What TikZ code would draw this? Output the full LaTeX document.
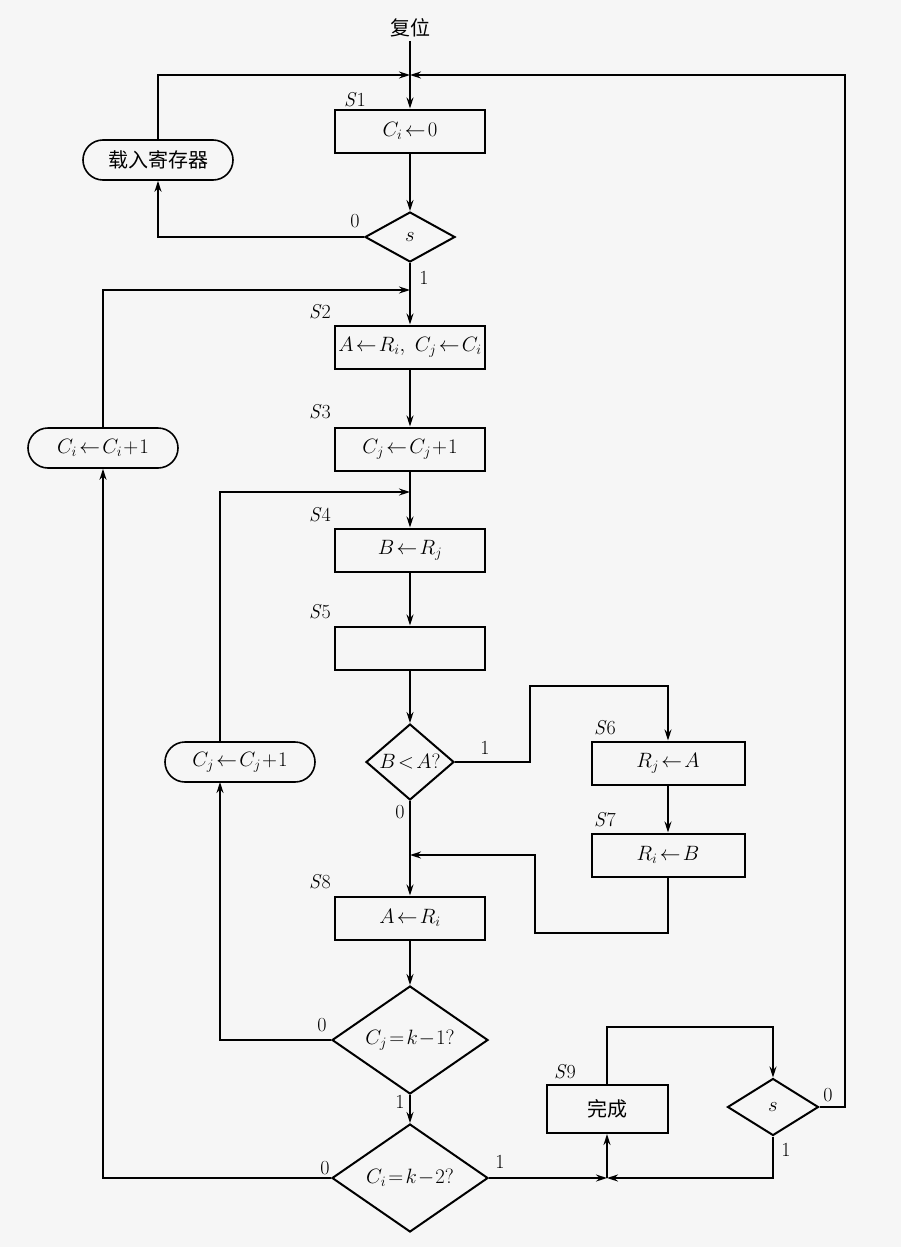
\documentclass[tikz,border=0pt]{standalone}
\usepackage{fontspec}
\newfontfamily\cjk{Noto Sans CJK SC}
\usetikzlibrary{shapes.geometric,arrows.meta}
\begin{document}
\begin{tikzpicture}[x=1pt,y=-1pt,font=\fontsize{20}{24}\selectfont,
  box/.style={draw,line width=2pt,minimum width=150pt,minimum height=43pt,inner sep=0},
  rbox/.style={draw,line width=1.6pt,rounded corners=20pt,minimum width=150pt,minimum height=40pt,inner sep=0},
  dia/.style={draw,diamond,line width=2pt,aspect=#1,inner sep=0},
  lab/.style={font=\fontsize{20}{24}\selectfont},
  ln/.style={line width=1.4pt},
  ar/.style={ln,-{Stealth[length=11pt,width=7pt]}}]
\useasboundingbox (0,0) rectangle (901,1247);
\fill[white!93!gray] (0,0) rectangle (901,1247);
\node (reset) at (410,28) {\cjk 复位};
\coordinate (j1) at (410,75);
\node[box] (s1) at (410,131) {$C_i\!\leftarrow\!0$};
\node[lab] at (355,100) {\textit{S}1};
\node[rbox] (load) at (158,160) {\cjk 载入寄存器};
\node[dia=1.8,minimum width=90pt,minimum height=50pt] (d1) at (410,237) {$s$};
\node at (355,221) {0};
\node at (424,278) {1};
\coordinate (j2) at (410,290);
\node[box] (s2) at (410,347) {$A\!\leftarrow\! R_i,\ C_j\!\leftarrow\! C_i$};
\node[lab] at (320,312) {\textit{S}2};
\node[rbox] (ci1) at (103,448) {$C_i\!\leftarrow\! C_i\!+\!1$};
\node[box] (s3) at (410,449) {$C_j\!\leftarrow\! C_j\!+\!1$};
\node[lab] at (320,412) {\textit{S}3};
\coordinate (j3) at (410,492);
\node[box] (s4) at (410,550) {$B\!\leftarrow\! R_j$};
\node[lab] at (320,515) {\textit{S}4};
\node[box] (s5) at (410,648) {};
\node[lab] at (320,612) {\textit{S}5};
\node[dia=1.15,minimum width=88pt,minimum height=76pt] (d2) at (410,762) {$B\!<\!A?$};
\node at (485,748) {1};
\node at (400,812) {0};
\node[rbox] (cj1) at (240,762) {$C_j\!\leftarrow\! C_j\!+\!1$};
\coordinate (cjx) at (220,782);
\node[box,minimum width=153pt] (s6) at (668,763) {$R_j\!\leftarrow\! A$};
\node[lab] at (605,728) {\textit{S}6};
\node[box,minimum width=153pt] (s7) at (668,855) {$R_i\!\leftarrow\! B$};
\node[lab] at (605,820) {\textit{S}7};
\coordinate (j4) at (410,855);
\node[box] (s8) at (410,918) {$A\!\leftarrow\! R_i$};
\node[lab] at (320,882) {\textit{S}8};
\node[dia=1.45,minimum width=156pt,minimum height=108pt] (d3) at (410,1040) {$C_j\!=\!k\!-\!1?$};
\node at (322,1025) {0};
\node at (400,1102) {1};
\node[dia=1.45,minimum width=156pt,minimum height=108pt] (d4) at (410,1178) {$C_i\!=\!k\!-\!2?$};
\node at (325,1168) {0};
\node at (500,1162) {1};
\node[box,minimum width=121pt,minimum height=48pt] (s9) at (607,1109) {\cjk 完成};
\node[lab] at (565,1072) {\textit{S}9};
\node[dia=1.6,minimum width=91pt,minimum height=57pt] (d5) at (773,1107) {$s$};
\node at (828,1095) {0};
\node at (786,1150) {1};
\coordinate (j5) at (607,1178);
% connectors
\draw[ar] (reset) -- (s1);
\draw[ar] (d5.east) -| (845,75) -- (j1);
\draw[ar] (load.north) |- (j1);
\draw[ar] (s1) -- (d1);
\draw[ar] (d1.west) -| (load.south);
\draw[ar] (d1) -- (s2);
\draw[ar] (ci1.north) |- (j2);
\draw[ar] (s2) -- (s3);
\draw[ar] (s3) -- (s4);
\draw[ar] (cjx |- cj1.north) |- (j3);
\draw[ar] (s4) -- (s5);
\draw[ar] (s5) -- (d2);
\draw[ar] (d2.east) -- (530,762) |- (668,686) -- (s6.north);
\draw[ar] (s6) -- (s7);
\draw[ar] (s7.south) |- (535,933) |- (j4);
\draw[ar] (d2) -- (s8);
\draw[ar] (s8) -- (d3);
\draw[ar] (d3.west) -| (cjx);
\draw[ar] (d3) -- (d4);
\draw[ar] (d4.west) -| (ci1.south);
\draw[ar] (d4.east) -- (j5);
\draw[ar] (d5.south) |- (j5);
\draw[ar] (j5) -- (s9.south);
\draw[ar] (s9.north) |- (773,1027) -- (d5.north);
\end{tikzpicture}
\end{document}
